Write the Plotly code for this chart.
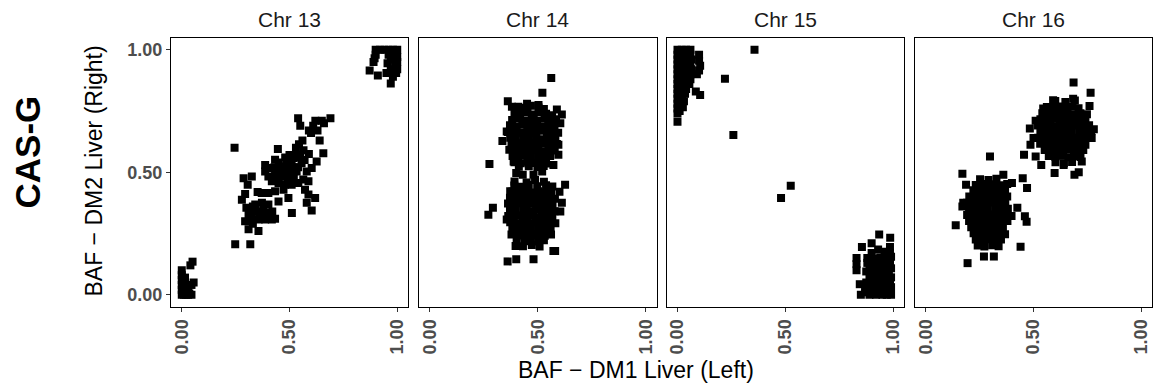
import plotly.graph_objects as go
from plotly.subplots import make_subplots

# ---------------- data (BAF DM1 Liver (Left), BAF DM2 Liver (Right)) ----------------
panel_names = ["Chr 13", "Chr 14", "Chr 15", "Chr 16"]
tick_vals = [0.0, 0.5, 1.0]
tick_text = ["0.00", "0.50", "1.00"]

chr13_points = [
    # near 0
    (0.0, 0.0), (0.0, 0.02), (0.0, 0.04), (0.0, 0.06), (0.0, 0.08), (0.0, 0.1), (0.01, 0.0), (0.01, 0.03),
    (0.01, 0.05), (0.015, 0.07), (0.02, 0.0), (0.02, 0.02), (0.02, 0.04), (0.03, 0.0), (0.03, 0.02),
    (0.035, 0.005), (0.045, 0.0), (0.04, 0.12), (0.05, 0.135), (0.055, 0.05), (0.045, 0.04),
    # middle
    (0.54, 0.72), (0.55, 0.69), (0.59, 0.67), (0.62, 0.71), (0.65, 0.71), (0.69, 0.72), (0.60, 0.66),
    (0.63, 0.67), (0.64, 0.63), (0.61, 0.69), (0.66, 0.70), (0.245, 0.60), (0.446, 0.595), (0.544, 0.614),
    (0.565, 0.59), (0.59, 0.574), (0.657, 0.578), (0.626, 0.544), (0.603, 0.517), (0.433, 0.551),
    (0.387, 0.53), (0.387, 0.503), (0.42, 0.517), (0.459, 0.524), (0.487, 0.53), (0.518, 0.558),
    (0.533, 0.571), (0.556, 0.537), (0.58, 0.503), (0.533, 0.503), (0.495, 0.49), (0.464, 0.483),
    (0.433, 0.49), (0.402, 0.483), (0.418, 0.463), (0.449, 0.456), (0.479, 0.449), (0.51, 0.449),
    (0.541, 0.456), (0.564, 0.47), (0.588, 0.463), (0.572, 0.429), (0.588, 0.409), (0.619, 0.395),
    (0.58, 0.375), (0.603, 0.344), (0.511, 0.334), (0.495, 0.395), (0.472, 0.429), (0.449, 0.381),
    (0.433, 0.422), (0.402, 0.415), (0.371, 0.415), (0.352, 0.419), (0.287, 0.476), (0.325, 0.483),
    (0.306, 0.449), (0.294, 0.411), (0.279, 0.388), (0.341, 0.368), (0.372, 0.375), (0.402, 0.368),
    (0.341, 0.341), (0.372, 0.341), (0.402, 0.334), (0.325, 0.321), (0.357, 0.307), (0.387, 0.307),
    (0.418, 0.307), (0.433, 0.31), (0.294, 0.30), (0.31, 0.267), (0.356, 0.26), (0.248, 0.206),
    (0.318, 0.206), (0.47, 0.50), (0.50, 0.51), (0.52, 0.48), (0.54, 0.52), (0.55, 0.56), (0.51, 0.54),
    (0.48, 0.56), (0.45, 0.54), (0.53, 0.60), (0.56, 0.63), (0.57, 0.55), (0.45, 0.47), (0.49, 0.47),
    (0.38, 0.35), (0.36, 0.32), (0.39, 0.33), (0.42, 0.34), (0.31, 0.33), (0.33, 0.29), (0.30, 0.355),
    (0.33, 0.36), (0.47, 0.52), (0.50, 0.57), (0.52, 0.52), (0.46, 0.50), (0.43, 0.52), (0.51, 0.50),
    # near 1
    (0.90, 1.0), (0.92, 1.0), (0.94, 1.0), (0.96, 1.0), (0.98, 1.0), (1.0, 1.0), (0.90, 0.98), (0.96, 0.98),
    (0.99, 0.985), (1.0, 0.97), (0.97, 0.96), (1.0, 0.95), (0.895, 0.965), (0.89, 0.95), (0.955, 0.945),
    (0.99, 0.93), (1.0, 0.92), (0.97, 0.92), (0.995, 0.905), (0.872, 0.915), (0.91, 0.895), (0.95, 0.905),
    (0.97, 0.862), (0.98, 0.89),
]

chr14_points = [
    # upper cluster
    (0.41, 0.767), (0.445, 0.762), (0.468, 0.771), (0.503, 0.764), (0.528, 0.758),
    (0.392, 0.742), (0.418, 0.738), (0.452, 0.745), (0.481, 0.736), (0.512, 0.744), (0.538, 0.739), (0.566, 0.733),
    (0.381, 0.713), (0.409, 0.719), (0.441, 0.711), (0.472, 0.716), (0.497, 0.709), (0.531, 0.718), (0.558, 0.712), (0.584, 0.716),
    (0.371, 0.692), (0.402, 0.687), (0.428, 0.694), (0.463, 0.688), (0.489, 0.693), (0.522, 0.686), (0.548, 0.691), (0.577, 0.688),
    (0.362, 0.664), (0.391, 0.668), (0.423, 0.661), (0.451, 0.667), (0.482, 0.662), (0.508, 0.669), (0.542, 0.663), (0.569, 0.666), (0.594, 0.661),
    (0.372, 0.641), (0.398, 0.636), (0.432, 0.643), (0.459, 0.638), (0.493, 0.642), (0.521, 0.635), (0.553, 0.641), (0.581, 0.637),
    (0.378, 0.613), (0.412, 0.618), (0.438, 0.611), (0.471, 0.616), (0.502, 0.612), (0.529, 0.617), (0.561, 0.612), (0.588, 0.615),
    (0.368, 0.592), (0.401, 0.587), (0.429, 0.594), (0.462, 0.588), (0.491, 0.591), (0.523, 0.586), (0.549, 0.592), (0.578, 0.589),
    (0.383, 0.566), (0.409, 0.562), (0.442, 0.568), (0.468, 0.563), (0.501, 0.567), (0.532, 0.561), (0.557, 0.566),
    (0.392, 0.541), (0.421, 0.537), (0.452, 0.543), (0.479, 0.538), (0.511, 0.542), (0.538, 0.536),
    (0.412, 0.522), (0.458, 0.524), (0.498, 0.521), (0.527, 0.525),
    (0.562, 0.885), (0.521, 0.824), (0.361, 0.79), (0.38, 0.767), (0.45, 0.78), (0.503, 0.774),
    (0.588, 0.756), (0.611, 0.736), (0.604, 0.70), (0.356, 0.666), (0.336, 0.628), (0.595, 0.612),
    (0.595, 0.571), (0.572, 0.53), (0.388, 0.544), (0.276, 0.534),
    # lower cluster
    (0.40, 0.497), (0.43, 0.49), (0.48, 0.49), (0.52, 0.503),
    (0.392, 0.462), (0.487, 0.468), (0.448, 0.458), (0.528, 0.461),
    (0.391, 0.446), (0.422, 0.441), (0.458, 0.448), (0.497, 0.443), (0.538, 0.447), (0.567, 0.442),
    (0.382, 0.421), (0.409, 0.418), (0.442, 0.423), (0.471, 0.417), (0.503, 0.422), (0.532, 0.416), (0.561, 0.421),
    (0.371, 0.396), (0.401, 0.392), (0.428, 0.398), (0.462, 0.391), (0.488, 0.397), (0.521, 0.393), (0.552, 0.398), (0.579, 0.392),
    (0.362, 0.372), (0.392, 0.367), (0.421, 0.373), (0.448, 0.368), (0.481, 0.371), (0.509, 0.366), (0.542, 0.372), (0.568, 0.368),
    (0.371, 0.346), (0.398, 0.342), (0.432, 0.348), (0.459, 0.341), (0.492, 0.347), (0.518, 0.343), (0.551, 0.346), (0.578, 0.341),
    (0.363, 0.321), (0.389, 0.317), (0.421, 0.323), (0.452, 0.318), (0.478, 0.322), (0.512, 0.316), (0.538, 0.321), (0.567, 0.318),
    (0.372, 0.296), (0.402, 0.292), (0.429, 0.297), (0.461, 0.291), (0.489, 0.298), (0.522, 0.293), (0.548, 0.297), (0.581, 0.292),
    (0.382, 0.271), (0.411, 0.267), (0.441, 0.273), (0.468, 0.268), (0.501, 0.272), (0.528, 0.266), (0.559, 0.271),
    (0.378, 0.246), (0.412, 0.242), (0.438, 0.248), (0.472, 0.243), (0.498, 0.247), (0.532, 0.241), (0.561, 0.246),
    (0.402, 0.221), (0.438, 0.218), (0.468, 0.223), (0.502, 0.217), (0.528, 0.222),
    (0.431, 0.198), (0.472, 0.203), (0.508, 0.197),
    (0.626, 0.449), (0.60, 0.42), (0.611, 0.375), (0.604, 0.34), (0.372, 0.422), (0.356, 0.307),
    (0.292, 0.355), (0.271, 0.327), (0.58, 0.179), (0.397, 0.199), (0.36, 0.136), (0.40, 0.145),
    (0.48, 0.145), (0.572, 0.179),
]

chr15_points = [
    # upper left
    (0.0, 1.0), (0.02, 1.0), (0.04, 1.0), (0.06, 1.0),
    (0.0, 0.98), (0.02, 0.98), (0.04, 0.98), (0.06, 0.98), (0.10, 0.98),
    (0.0, 0.96), (0.02, 0.96), (0.04, 0.96), (0.065, 0.96), (0.10, 0.955),
    (0.0, 0.94), (0.02, 0.94), (0.04, 0.94), (0.06, 0.94), (0.105, 0.935),
    (0.0, 0.92), (0.02, 0.92), (0.045, 0.92), (0.065, 0.92), (0.10, 0.915),
    (0.0, 0.90), (0.02, 0.90), (0.04, 0.90), (0.06, 0.90), (0.09, 0.90),
    (0.0, 0.88), (0.02, 0.88), (0.04, 0.88), (0.06, 0.88),
    (0.0, 0.86), (0.02, 0.86), (0.04, 0.86), (0.055, 0.86),
    (0.0, 0.84), (0.02, 0.84), (0.04, 0.84), (0.085, 0.83),
    (0.0, 0.82), (0.02, 0.82), (0.035, 0.82), (0.105, 0.815),
    (0.0, 0.80), (0.02, 0.80), (0.03, 0.79),
    (0.0, 0.78), (0.015, 0.78), (0.025, 0.765),
    (0.0, 0.76), (0.01, 0.75), (0.0, 0.74), (0.0, 0.706),
    # isolated
    (0.22, 0.882), (0.357, 1.0), (0.259, 0.652), (0.525, 0.445), (0.48, 0.395),
    # lower right
    (0.935, 0.246), (0.986, 0.233), (0.90, 0.21), (0.855, 0.195), (0.83, 0.15), (0.83, 0.125),
    (0.83, 0.10), (0.845, 0.043), (0.85, 0.0), (0.87, 0.02),
    (0.90, 0.17), (0.96, 0.175), (0.985, 0.17), (0.93, 0.185), (0.985, 0.195),
    (0.88, 0.15), (0.91, 0.148), (0.94, 0.152), (0.97, 0.15), (0.99, 0.155),
    (0.88, 0.13), (0.905, 0.128), (0.93, 0.132), (0.96, 0.13), (0.985, 0.133),
    (0.89, 0.11), (0.92, 0.108), (0.95, 0.112), (0.97, 0.11), (0.99, 0.108),
    (0.90, 0.09), (0.93, 0.092), (0.955, 0.088), (0.98, 0.09), (0.875, 0.095),
    (0.89, 0.07), (0.92, 0.068), (0.94, 0.072), (0.965, 0.07), (0.99, 0.071),
    (0.875, 0.05), (0.90, 0.052), (0.93, 0.048), (0.96, 0.05), (0.985, 0.053),
    (0.88, 0.03), (0.91, 0.032), (0.94, 0.028), (0.97, 0.03), (0.99, 0.031),
    (0.87, 0.01), (0.90, 0.012), (0.93, 0.008), (0.96, 0.01), (0.98, 0.012),
    (0.89, 0.0), (0.92, 0.0), (0.95, 0.0), (0.97, 0.0), (0.99, 0.0),
]

chr16_points = [
    # lower cluster
    (0.252, 0.471), (0.291, 0.468), (0.328, 0.473),
    (0.232, 0.448), (0.262, 0.452), (0.288, 0.446), (0.321, 0.451), (0.349, 0.447), (0.378, 0.452),
    (0.221, 0.427), (0.249, 0.422), (0.282, 0.428), (0.311, 0.423), (0.338, 0.427), (0.368, 0.421),
    (0.202, 0.401), (0.231, 0.397), (0.259, 0.403), (0.292, 0.398), (0.318, 0.402), (0.352, 0.396), (0.378, 0.401),
    (0.191, 0.376), (0.222, 0.372), (0.248, 0.378), (0.281, 0.373), (0.309, 0.377), (0.341, 0.371), (0.369, 0.376),
    (0.201, 0.351), (0.229, 0.347), (0.262, 0.352), (0.288, 0.348), (0.322, 0.353), (0.348, 0.346), (0.381, 0.351),
    (0.192, 0.326), (0.221, 0.322), (0.252, 0.327), (0.279, 0.321), (0.312, 0.328), (0.338, 0.323), (0.371, 0.326), (0.398, 0.321),
    (0.201, 0.301), (0.232, 0.297), (0.259, 0.302), (0.291, 0.298), (0.318, 0.303), (0.352, 0.297), (0.379, 0.301),
    (0.211, 0.276), (0.239, 0.272), (0.272, 0.277), (0.298, 0.273), (0.331, 0.278), (0.358, 0.272),
    (0.222, 0.251), (0.251, 0.247), (0.278, 0.252), (0.312, 0.248), (0.338, 0.253), (0.368, 0.247),
    (0.232, 0.226), (0.261, 0.222), (0.291, 0.227), (0.318, 0.221), (0.349, 0.225),
    (0.241, 0.201), (0.272, 0.197), (0.308, 0.202), (0.338, 0.198),
    (0.298, 0.564), (0.17, 0.494), (0.139, 0.284), (0.194, 0.129), (0.316, 0.156), (0.27, 0.156),
    (0.44, 0.196), (0.468, 0.298), (0.46, 0.32), (0.47, 0.436), (0.45, 0.476), (0.40, 0.456),
    (0.36, 0.49), (0.187, 0.449), (0.174, 0.375), (0.425, 0.355), (0.17, 0.36),
    # upper cluster
    (0.601, 0.791), (0.648, 0.787), (0.692, 0.793),
    (0.562, 0.766), (0.591, 0.762), (0.622, 0.768), (0.649, 0.763), (0.681, 0.767), (0.709, 0.761),
    (0.541, 0.741), (0.572, 0.737), (0.598, 0.743), (0.631, 0.738), (0.658, 0.742), (0.692, 0.736), (0.718, 0.741), (0.748, 0.737),
    (0.532, 0.716), (0.561, 0.712), (0.588, 0.718), (0.621, 0.713), (0.649, 0.717), (0.681, 0.711), (0.708, 0.716), (0.741, 0.712),
    (0.521, 0.691), (0.552, 0.687), (0.579, 0.692), (0.611, 0.688), (0.638, 0.693), (0.671, 0.686), (0.698, 0.691), (0.731, 0.687), (0.758, 0.692),
    (0.532, 0.666), (0.559, 0.662), (0.592, 0.667), (0.618, 0.661), (0.651, 0.668), (0.678, 0.663), (0.712, 0.666), (0.738, 0.661), (0.768, 0.667),
    (0.522, 0.641), (0.551, 0.637), (0.578, 0.642), (0.612, 0.638), (0.639, 0.643), (0.672, 0.636), (0.698, 0.641), (0.732, 0.637), (0.758, 0.642),
    (0.531, 0.616), (0.562, 0.612), (0.588, 0.617), (0.621, 0.611), (0.648, 0.618), (0.681, 0.613), (0.708, 0.616), (0.741, 0.612),
    (0.552, 0.591), (0.578, 0.587), (0.611, 0.592), (0.638, 0.588), (0.671, 0.593), (0.698, 0.587), (0.731, 0.591),
    (0.571, 0.566), (0.602, 0.562), (0.629, 0.567), (0.662, 0.561), (0.688, 0.566), (0.718, 0.562),
    (0.602, 0.541), (0.641, 0.537), (0.679, 0.542),
    (0.686, 0.866), (0.765, 0.824), (0.684, 0.80), (0.591, 0.794), (0.76, 0.77), (0.78, 0.676),
    (0.77, 0.64), (0.483, 0.679), (0.486, 0.612), (0.456, 0.571), (0.536, 0.53), (0.598, 0.497),
    (0.69, 0.49), (0.71, 0.50), (0.724, 0.544), (0.51, 0.71), (0.545, 0.76), (0.51, 0.564),
    (0.64, 0.53), (0.50, 0.64),
]

panel_points = [chr13_points, chr14_points, chr15_points, chr16_points]

# ---------------- layout geometry (pixels) ----------------
W, H = 1165, 391
x_px = [(171, 408), (419, 656.7), (666.7, 904), (915, 1152)]
top_px, bot_px = 37.5, 307.0
FONT = "Liberation Sans, Arial, Helvetica, sans-serif"

fig = make_subplots(rows=1, cols=4)
for i, pts in enumerate(panel_points):
    fig.add_trace(
        go.Scatter(
            x=[p[0] for p in pts], y=[p[1] for p in pts], mode="markers",
            marker=dict(symbol="square", size=8, color="black", line=dict(width=0)),
            showlegend=False, hoverinfo="x+y",
        ),
        row=1, col=i + 1,
    )

y_dom = [(H - bot_px) / H, (H - top_px) / H]
for i in range(4):
    xa = "xaxis" if i == 0 else f"xaxis{i + 1}"
    ya = "yaxis" if i == 0 else f"yaxis{i + 1}"
    fig.layout[xa].update(
        domain=[x_px[i][0] / W, x_px[i][1] / W], range=[-0.05, 1.05],
        tickmode="array", tickvals=tick_vals, ticktext=tick_text, tickangle=-90,
        ticks="outside", ticklen=4, tickwidth=1, tickcolor="#333333",
        showline=True, mirror=True, linecolor="black", linewidth=1.3,
        showgrid=False, zeroline=False,
        tickfont=dict(family=FONT, size=18, color="#4D4D4D", weight="bold"),
    )
    fig.layout[ya].update(
        domain=y_dom, range=[-0.05, 1.05],
        tickmode="array", tickvals=tick_vals, ticktext=tick_text,
        ticks="outside" if i == 0 else "", ticklen=4, tickwidth=1, tickcolor="#333333",
        showticklabels=(i == 0),
        showline=True, mirror=True, linecolor="black", linewidth=1.3,
        showgrid=False, zeroline=False,
        tickfont=dict(family=FONT, size=18, color="#4D4D4D", weight="bold"),
    )

annotations = []
for i, name in enumerate(panel_names):
    cx = (x_px[i][0] + x_px[i][1]) / 2
    annotations.append(dict(
        text=name, x=cx / W, y=1 - 19.5 / H, xref="paper", yref="paper",
        xanchor="center", yanchor="middle", showarrow=False,
        font=dict(family=FONT, size=21, color="#1A1A1A"),
    ))
annotations.append(dict(
    text="BAF − DM1 Liver (Left)", x=636 / W, y=1 - 370 / H, xref="paper", yref="paper",
    xanchor="center", yanchor="middle", showarrow=False,
    font=dict(family=FONT, size=23, color="black"),
))
annotations.append(dict(
    text="BAF − DM2 Liver (Right)", x=93.5 / W, y=1 - 171 / H, xref="paper", yref="paper",
    xanchor="center", yanchor="middle", showarrow=False, textangle=-90,
    font=dict(family=FONT, size=23, color="black"),
))
annotations.append(dict(
    text="<b>CAS-G</b>", x=27 / W, y=1 - 152.5 / H, xref="paper", yref="paper",
    xanchor="center", yanchor="middle", showarrow=False, textangle=-90,
    font=dict(family=FONT, size=35, color="black"),
))

fig.update_layout(
    width=W, height=H, margin=dict(l=0, r=0, t=0, b=0),
    paper_bgcolor="white", plot_bgcolor="white",
    annotations=annotations, showlegend=False,
)

fig.write_html("out.html")
